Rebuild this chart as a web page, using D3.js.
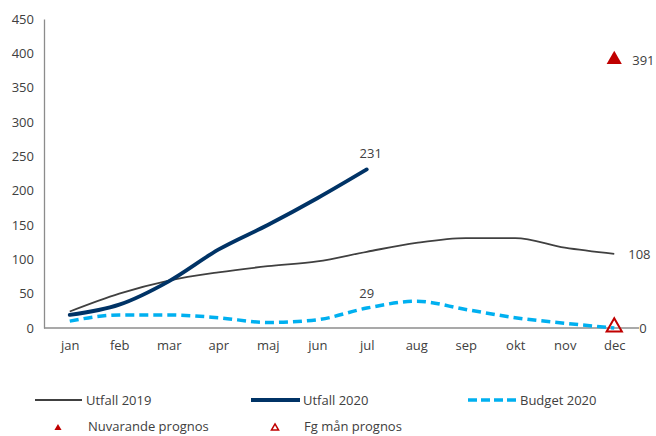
<!DOCTYPE html>
<html><head><meta charset="utf-8">
<script src="https://cdn.jsdelivr.net/npm/d3@7"></script>
<style>body{margin:0;background:#fff}svg{display:block}text{font-family:"Open Sans","Liberation Sans",sans-serif}</style>
</head><body>
<script>
const months = ["jan","feb","mar","apr","maj","jun","jul","aug","sep","okt","nov","dec"];
const yTicks = [0,50,100,150,200,250,300,350,400,450];
const utfall2019 = [24,50,69,81,90,97,111,124,131,131,117,108];
const utfall2020 = [19,34,68,114,150,189,231];
const budget2020 = [10,19,19,15,8,12,29,39,27,15,7,0];
const nuvarandePrognos = [{m:"dec", v:391}];
const fgManPrognos = [{m:"dec", v:0}];

const W=656,H=436;
const svg=d3.select("body").append("svg").attr("width",W).attr("height",H);
const x=d3.scalePoint().domain(months).range([45,639]).padding(0.5);
const y=d3.scaleLinear().domain([0,450]).range([328,19]);
const txt="#404040", fs=13;

// y axis
const ya=svg.append("g").attr("transform","translate(44,0)").call(d3.axisLeft(y).tickValues(yTicks).tickSize(0).tickPadding(10));
ya.select(".domain").attr("stroke","#8c8c8c").attr("stroke-width",1.3);
ya.selectAll("text").attr("fill",txt).style("font-size",fs+"px").style("font-family",'"Open Sans",sans-serif');
// x axis
const xa=svg.append("g").attr("transform","translate(0,328)").call(d3.axisBottom(x).tickSize(0).tickPadding(13));
xa.select(".domain").attr("d","M44,0H639").attr("stroke","#8c8c8c").attr("stroke-width",1.3);
xa.selectAll("text").attr("fill",txt).style("font-size",fs+"px").style("font-family",'"Open Sans",sans-serif');

const line=d3.line().x((d,i)=>x(months[i])).y(d=>y(d)).curve(d3.curveMonotoneX);
svg.append("path").datum(utfall2019).attr("d",line).attr("fill","none").attr("stroke","#404040").attr("stroke-width",1.8);
svg.append("path").datum(budget2020).attr("d",line).attr("fill","none").attr("stroke","#00B0F0").attr("stroke-width",3.5).attr("stroke-dasharray","9,5");
svg.append("path").datum(utfall2020).attr("d",line).attr("fill","none").attr("stroke","#003366").attr("stroke-width",3.8).attr("stroke-linecap","round");

const tri=d3.symbol().type(d3.symbolTriangle);
svg.selectAll(".np").data(nuvarandePrognos).join("path").attr("d",tri.size(100)())
  .attr("transform",d=>`translate(${x(d.m)},${y(d.v)})`).attr("fill","#C00000");
svg.selectAll(".fp").data(fgManPrognos).join("path").attr("d",tri.size(100)())
  .attr("transform",d=>`translate(${x(d.m)},${y(d.v)-1})`).attr("fill","none").attr("stroke","#C00000").attr("stroke-width",2);

function label(t,xx,yy,anchor){svg.append("text").attr("x",xx).attr("y",yy).attr("text-anchor",anchor).attr("fill",txt).style("font-size",fs+"px").text(t);}
label(String(utfall2020[6]),x("jul")+4,y(utfall2020[6])-11,"middle");
label(String(budget2020[6]),x("jul"),y(budget2020[6])-10,"middle");
label(String(utfall2019[11]),x("dec")+14,y(utfall2019[11])+5,"start");
label(String(nuvarandePrognos[0].v),x("dec")+18,y(nuvarandePrognos[0].v)+5,"start");
label(String(fgManPrognos[0].v),x("dec")+25,y(0)+5,"start");

// legend
const lg=svg.append("g");
function lline(x1,x2,yy,stroke,w,dash){lg.append("line").attr("x1",x1).attr("x2",x2).attr("y1",yy).attr("y2",yy).attr("stroke",stroke).attr("stroke-width",w).attr("stroke-dasharray",dash||null);}
function ltext(t,xx,yy){lg.append("text").attr("x",xx).attr("y",yy+5).attr("fill",txt).style("font-size",fs+"px").text(t);}
lline(35,82,400,"#404040",1.8); ltext("Utfall 2019",86,400);
lline(251,300,400,"#003366",3.8); ltext("Utfall 2020",303,400);
lline(468,517,400,"#00B0F0",3.5,"9,4"); ltext("Budget 2020",520,400);
lg.append("path").attr("d",tri.size(22)()).attr("transform","translate(58,428)").attr("fill","#C00000");
ltext("Nuvarande prognos",88,426);
lg.append("path").attr("d",tri.size(22)()).attr("transform","translate(275,428)").attr("fill","none").attr("stroke","#C00000").attr("stroke-width",1.5);
ltext("Fg mån prognos",304,426);
</script>
</body></html>
